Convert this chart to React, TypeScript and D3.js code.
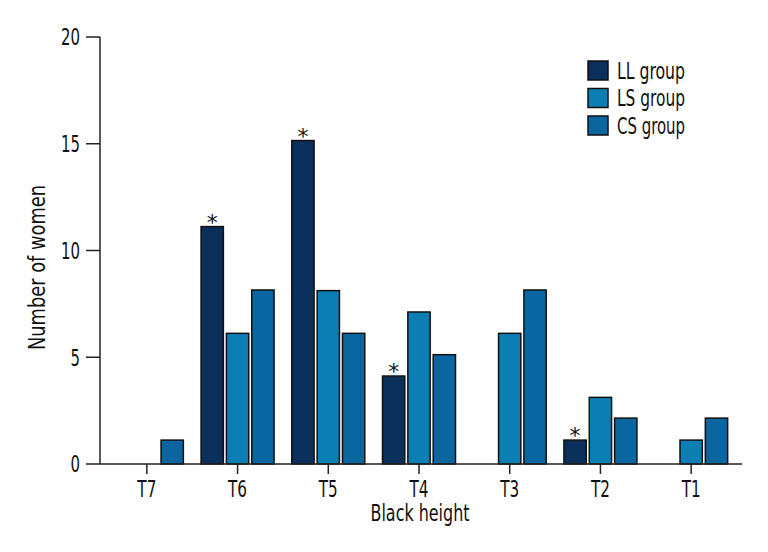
import React from "react";
import * as d3 from "d3";

const categories = ["T7", "T6", "T5", "T4", "T3", "T2", "T1"];
const seriesNames = ["LL group", "LS group", "CS group"];
const llValues = [0, 11.12, 15.15, 4.12, 0, 1.12, 0];
const lsValues = [0, 6.12, 8.12, 7.12, 6.12, 3.12, 1.12];
const csValues = [1.12, 8.15, 6.12, 5.12, 8.15, 2.15, 2.15];
const significant = ["T6", "T5", "T4", "T2"];
const yTicks = [0, 5, 10, 15, 20];
const colors = ["#0a2f5b", "#0b7fb4", "#0a66a0"];

const W = 768;
const H = 552;
const FONT = "'DejaVu Sans', sans-serif";

export default function App() {
  const x = d3.scaleBand<string>().domain(categories).range([101.5, 736.5]).padding(0);
  const x1 = d3.scaleBand<string>().domain(seriesNames).range([-36.5, 36.5]).paddingInner(0.12);
  const y = d3.scaleLinear().domain([0, 20]).range([464, 37]);
  const allSeries = [llValues, lsValues, csValues];
  const axisColor = "#222";
  const textStyle = { fontStretch: "condensed" as const };
  const FS = 23;

  return (
    <svg width={W} height={H} style={{ position: "absolute", left: 0, top: 0, background: "#fff" }} fontFamily={FONT}>
      {/* bars */}
      {categories.map((c, i) => (
        <g key={c} transform={`translate(${x(c)! + x.bandwidth() / 2},0)`}>
          {allSeries.map((vals, s) => {
            const v = vals[i];
            if (!v) return null;
            return (
              <rect
                key={s}
                x={x1(seriesNames[s])!}
                y={y(v)}
                width={x1.bandwidth()}
                height={y(0) - y(v)}
                fill={colors[s]}
                stroke="#111"
                strokeWidth={1.5}
              />
            );
          })}
          {significant.includes(c) && (
            <text
              x={x1(seriesNames[0])! + x1.bandwidth() / 2}
              y={y(llValues[i]) + 3}
              textAnchor="middle"
              fontSize={22}
              fill="#111"
            >
              *
            </text>
          )}
        </g>
      ))}

      {/* y axis */}
      <line x1={100} x2={100} y1={y(20)} y2={y(0)} stroke={axisColor} strokeWidth={1.5} />
      {yTicks.map((t) => (
        <g key={t}>
          <line x1={86} x2={100} y1={y(t)} y2={y(t)} stroke={axisColor} strokeWidth={1.5} />
          <text
            x={80}
            y={y(t)}
            dy="0.36em"
            textAnchor="end"
            fontSize={FS}
            fill="#111"
            style={textStyle}
            textLength={String(t).length * 9.5}
            lengthAdjust="spacingAndGlyphs"
          >
            {t}
          </text>
        </g>
      ))}

      {/* x axis */}
      <line x1={100} x2={742} y1={y(0)} y2={y(0)} stroke={axisColor} strokeWidth={1.5} />
      {categories.map((c) => (
        <g key={c}>
          <line
            x1={x(c)! + x.bandwidth() / 2}
            x2={x(c)! + x.bandwidth() / 2}
            y1={y(0)}
            y2={y(0) + 10}
            stroke={axisColor}
            strokeWidth={1.5}
          />
          <text
            x={x(c)! + x.bandwidth() / 2}
            y={497}
            textAnchor="middle"
            fontSize={FS}
            fill="#111"
            style={textStyle}
            textLength={19}
            lengthAdjust="spacingAndGlyphs"
          >
            {c}
          </text>
        </g>
      ))}

      {/* axis titles */}
      <text
        x={420}
        y={521}
        textAnchor="middle"
        fontSize={FS}
        fill="#111"
        style={textStyle}
        textLength={99}
        lengthAdjust="spacingAndGlyphs"
      >
        Black height
      </text>
      <text
        transform={`translate(45,267.5) rotate(-90)`}
        textAnchor="middle"
        fontSize={FS}
        fill="#111"
        style={textStyle}
        textLength={165}
        lengthAdjust="spacingAndGlyphs"
      >
        Number of women
      </text>

      {/* legend */}
      {seriesNames.map((n, s) => (
        <g key={n} transform={`translate(588,${61 + s * 27.5})`}>
          <rect x={0} y={0} width={20} height={19} fill={colors[s]} stroke="#111" strokeWidth={1.5} />
          <text
            x={29}
            y={17.5}
            fontSize={FS}
            fill="#111"
            style={textStyle}
            textLength={68}
            lengthAdjust="spacingAndGlyphs"
          >
            {n}
          </text>
        </g>
      ))}
    </svg>
  );
}
